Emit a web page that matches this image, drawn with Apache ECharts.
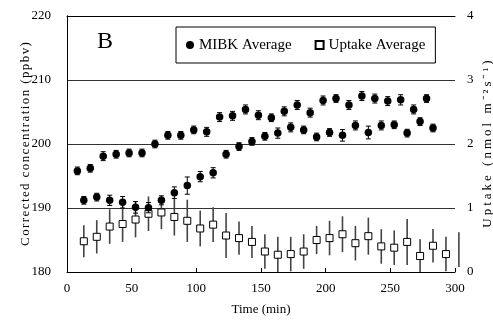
<!DOCTYPE html>
<html><head><meta charset="utf-8">
<script src="https://cdn.jsdelivr.net/npm/echarts@6/dist/echarts.min.js"></script>
<style>html,body{margin:0;padding:0;background:#fff}#c{width:493px;height:320px}</style>
</head><body><div id="c"></div>
<script>
const xTicks = [0, 50, 100, 150, 200, 250, 300];
const leftTicks = [180, 190, 200, 210, 220];
const rightTicks = [0, 1, 2, 3, 4];

const mibkTimeA = [8,18,28,38,48,58,68,78,88,98,108,118,128,138,148,158,168,178,188,198,208,218,228,238,248,258,268,278];
const mibkA = [195.8,196.2,198.1,198.4,198.6,198.6,200.0,201.35,201.35,202.2,201.9,204.2,204.4,205.4,204.5,204.1,205.1,206.1,204.9,206.8,207.1,206.1,207.5,207.1,206.7,206.9,205.4,207.1];
const mibkErrA = [0.6,0.6,0.7,0.6,0.6,0.6,0.6,0.6,0.6,0.6,0.7,0.7,0.7,0.7,0.7,0.6,0.7,0.7,0.7,0.7,0.6,0.7,0.7,0.7,0.7,0.8,0.7,0.6];

const mibkTimeB = [13,23,33,43,53,63,73,83,93,103,113,123,133,143,153,163,173,183,193,203,213,223,233,243,253,263,273,283];
const mibkB = [191.2,191.7,191.2,190.9,190.1,190.05,191.2,192.4,193.5,194.9,195.5,198.4,199.6,200.4,201.2,201.7,202.6,202.2,201.1,201.8,201.35,202.9,201.8,202.9,203.0,201.7,203.5,202.5];
const mibkErrB = [0.6,0.6,0.8,0.9,0.9,0.8,0.7,0.9,1.35,0.8,0.8,0.6,0.6,0.6,0.6,0.8,0.7,0.6,0.6,0.6,0.9,0.7,1.0,0.7,0.6,0.6,0.6,0.6];

const uptakeTime = [13,23,33,43,53,63,73,83,93,103,113,123,133,143,153,163,173,183,193,203,213,223,233,243,253,263,273,283,293,303];
const uptake = [0.48,0.55,0.71,0.75,0.82,0.91,0.93,0.86,0.80,0.68,0.74,0.57,0.53,0.47,0.32,0.27,0.28,0.32,0.50,0.53,0.59,0.45,0.56,0.40,0.38,0.47,0.25,0.41,0.28,0.35];
const uptakeErr = [0.25,0.26,0.27,0.28,0.28,0.27,0.26,0.29,0.33,0.28,0.27,0.35,0.26,0.25,0.27,0.28,0.27,0.27,0.22,0.27,0.28,0.27,0.29,0.27,0.27,0.36,0.26,0.26,0.27,0.27];

const FONT = 'Liberation Serif';
const LEFT_NAME = 'Corrected concentration (ppbv)';
const RIGHT_NAME = 'Uptake (nmol m\u207B\u00B2s\u207B\u00B9)';

// the rotated axis titles in the reference are drawn with extra letter spacing
(function () {
  const P = CanvasRenderingContext2D.prototype, orig = P.fillText;
  const spacing = {};
  spacing[LEFT_NAME] = 1.4;
  spacing[RIGHT_NAME] = 3;
  P.fillText = function (t, x, y, w) {
    if (typeof t === 'string' && spacing[t] !== undefined) {
      const sp = spacing[t];
      const chars = Array.from(t);
      const widths = chars.map(c => this.measureText(c).width);
      const total = widths.reduce((a, b) => a + b, 0) + sp * (chars.length - 1);
      const align = this.textAlign;
      let sx = x;
      if (align === 'center') sx = x - total / 2;
      else if (align === 'right' || align === 'end') sx = x - total;
      this.textAlign = 'left';
      for (let i = 0; i < chars.length; i++) { orig.call(this, chars[i], sx, y); sx += widths[i] + sp; }
      this.textAlign = align;
      return;
    }
    return w === undefined ? orig.call(this, t, x, y) : orig.call(this, t, x, y, w);
  };
})();

const pts = (xs, ys) => xs.map((x, i) => [x, ys[i]]);
const errs = (xs, ys, es, lo, hi) => xs.map((x, i) => [x, Math.max(lo, ys[i] - es[i]), Math.min(hi, ys[i] + es[i])]);

function errRender(capW, color, width) {
  return function (params, api) {
    const x = api.value(0), lo = api.value(1), hi = api.value(2);
    const a = api.coord([x, hi]), b = api.coord([x, lo]);
    const children = [{ type: 'line', shape: { x1: a[0], y1: a[1], x2: b[0], y2: b[1] }, style: { stroke: color, lineWidth: width } }];
    if (capW) {
      children.push({ type: 'line', shape: { x1: a[0] - capW, y1: a[1], x2: a[0] + capW, y2: a[1] }, style: { stroke: color, lineWidth: 1 } });
      children.push({ type: 'line', shape: { x1: b[0] - capW, y1: b[1], x2: b[0] + capW, y2: b[1] }, style: { stroke: color, lineWidth: 1 } });
    }
    return { type: 'group', children };
  };
}

const chart = echarts.init(document.getElementById('c'), null, { renderer: 'canvas' });
chart.setOption({
  animation: false,
  backgroundColor: '#fff',
  textStyle: { fontFamily: FONT, color: '#000' },
  grid: { left: 67, right: 38, top: 16, bottom: 48, containLabel: false, outerBoundsMode: 'none' },
  legend: {
    left: 176, top: 27, padding: [10, 10], itemGap: 23, itemWidth: 8, itemHeight: 8,
    borderColor: '#000', borderWidth: 1, borderRadius: 0,
    textStyle: { fontFamily: FONT, fontSize: 15, color: '#000', lineHeight: 16 },
    data: [{ name: 'MIBK Average', icon: 'circle' }, { name: 'Uptake Average', icon: 'rect' }]
  },
  graphic: [{ type: 'text', left: 97, top: 30, style: { text: 'B', fontFamily: FONT, fontSize: 24, fill: '#000' } }],
  xAxis: [{
    type: 'value', min: xTicks[0], max: xTicks[xTicks.length - 1], interval: 50,
    name: 'Time (min)', nameLocation: 'middle', nameGap: 31,
    nameTextStyle: { fontFamily: FONT, fontSize: 13, color: '#000' },
    axisLine: { show: true, lineStyle: { color: '#000', width: 1 } },
    axisTick: { show: true, inside: true, length: 4, lineStyle: { color: '#000' } },
    axisLabel: { fontFamily: FONT, fontSize: 13, color: '#000', margin: 10 },
    splitLine: { show: false }
  }, {
    type: 'value', position: 'top', min: 0, max: 300,
    axisLine: { show: true, lineStyle: { color: '#000', width: 1 } },
    axisTick: { show: false }, axisLabel: { show: false }, splitLine: { show: false }
  }],
  yAxis: [{
    type: 'value', min: leftTicks[0], max: leftTicks[leftTicks.length - 1], interval: 10,
    name: LEFT_NAME, nameLocation: 'middle', nameGap: 35, nameRotate: 90, nameMoveOverlap: false,
    nameTextStyle: { fontFamily: FONT, fontSize: 13, color: '#000' },
    axisLine: { show: true, lineStyle: { color: '#000', width: 1 } },
    axisTick: { show: false },
    axisLabel: { fontFamily: FONT, fontSize: 13, color: '#000', margin: 16 },
    splitLine: { show: true, lineStyle: { color: '#333', width: 1 } }
  }, {
    type: 'value', position: 'right', min: rightTicks[0], max: rightTicks[rightTicks.length - 1], interval: 1,
    name: RIGHT_NAME, nameLocation: 'middle', nameGap: 26, nameRotate: 90, nameMoveOverlap: false,
    nameTextStyle: { fontFamily: FONT, fontSize: 13, color: '#000' },
    axisLine: { show: true, lineStyle: { color: '#000', width: 1 } },
    axisTick: { show: false },
    axisLabel: { fontFamily: FONT, fontSize: 13, color: '#000', margin: 12 },
    splitLine: { show: false }
  }],
  series: [
    { name: 'uptakeErr', type: 'custom', xAxisIndex: 0, yAxisIndex: 1, clip: false, z: 2,
      renderItem: errRender(0, '#444', 1.6), encode: { x: 0, y: [1, 2] },
      data: errs(uptakeTime, uptake, uptakeErr, 0, 4) },
    { name: 'Uptake Average', type: 'scatter', xAxisIndex: 0, yAxisIndex: 1, symbol: 'rect', symbolSize: 7, z: 3,
      itemStyle: { color: '#fff', borderColor: '#000', borderWidth: 1, opacity: 1 },
      data: pts(uptakeTime, uptake).filter(p => p[0] <= 300) },
    { name: 'mibkErrA', type: 'custom', xAxisIndex: 0, yAxisIndex: 0, z: 4,
      renderItem: errRender(2.5, '#000', 1), encode: { x: 0, y: [1, 2] },
      data: errs(mibkTimeA, mibkA, mibkErrA, 180, 220) },
    { name: 'mibkErrB', type: 'custom', xAxisIndex: 0, yAxisIndex: 0, z: 4,
      renderItem: errRender(2.5, '#000', 1), encode: { x: 0, y: [1, 2] },
      data: errs(mibkTimeB, mibkB, mibkErrB, 180, 220) },
    { name: 'MIBK Average', type: 'scatter', xAxisIndex: 0, yAxisIndex: 0, symbol: 'circle', symbolSize: 7.5, z: 5,
      itemStyle: { color: '#000', opacity: 1 }, data: pts(mibkTimeA, mibkA) },
    { name: 'MIBK Average', type: 'scatter', xAxisIndex: 0, yAxisIndex: 0, symbol: 'circle', symbolSize: 7.5, z: 5,
      itemStyle: { color: '#000', opacity: 1 }, data: pts(mibkTimeB, mibkB) }
  ]
});
</script></body></html>
